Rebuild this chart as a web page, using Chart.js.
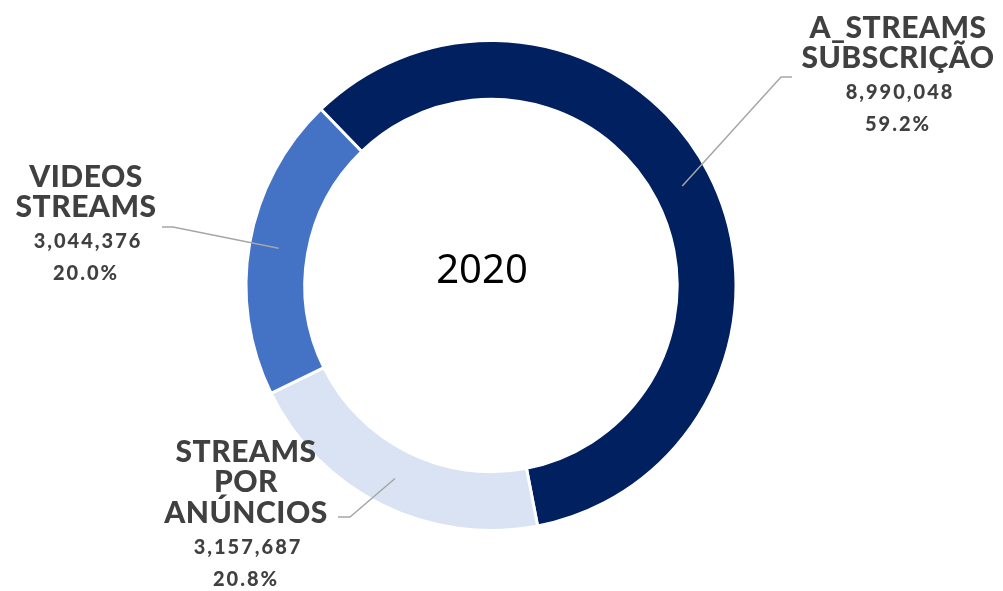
<!DOCTYPE html>
<html>
<head>
<meta charset="utf-8">
<script src="https://cdn.jsdelivr.net/npm/chart.js@4/dist/chart.umd.min.js"></script>
<style>
  html, body { margin: 0; padding: 0; background: #fff; }
  #wrap { width: 1003px; height: 591px; }
</style>
</head>
<body>
<div id="wrap"><canvas id="donut"></canvas></div>
<script>
const categories = ["A_STREAMS SUBSCRIÇÃO", "STREAMS POR ANÚNCIOS", "VIDEOS STREAMS"];
const titleLines = [["A_STREAMS", "SUBSCRIÇÃO"], ["STREAMS", "POR", "ANÚNCIOS"], ["VIDEOS", "STREAMS"]];
const values = [8990048, 3157687, 3044376];
const sliceColors = ["#002060", "#DAE3F3", "#4472C4"];
const centerTitle = "2020";

// where each label block sits and how its leader line bends
const labelLayout = [
  { x: 898, y: 28, elbow: [781, 77], end: [792, 77] },
  { x: 246, y: 452, elbow: [350, 517], end: [338, 517] },
  { x: 86, y: 177, elbow: [173, 227], end: [162, 227] },
];

const total = values.reduce((a, b) => a + b, 0);

const labelPlugin = {
  id: "calloutLabels",
  afterDatasetsDraw(chart) {
    const ctx = chart.ctx;
    const meta = chart.getDatasetMeta(0);
    ctx.save();

    // center text
    const first = meta.data[0];
    ctx.fillStyle = "#000";
    ctx.font = "40px 'Noto Sans'";
    ctx.textAlign = "center";
    ctx.textBaseline = "middle";
    ctx.fillText(centerTitle, first.x - 9, 272);

    meta.data.forEach((arc, i) => {
      const lay = labelLayout[i];
      const pos = arc.tooltipPosition();

      // leader line
      ctx.strokeStyle = "#A6A6A6";
      ctx.lineWidth = 1.5;
      ctx.beginPath();
      ctx.moveTo(pos.x, pos.y);
      ctx.lineTo(lay.elbow[0], lay.elbow[1]);
      ctx.lineTo(lay.end[0], lay.end[1]);
      ctx.stroke();

      ctx.fillStyle = "#404040";
      ctx.textAlign = "center";
      ctx.textBaseline = "middle";
      let y = lay.y;
      ctx.letterSpacing = "0.5px";
      ctx.font = "900 30px Lato";
      titleLines[i].forEach((t) => {
        ctx.fillText(t, lay.x, y);
        y += 30.5;
      });
      y += 4;
      ctx.font = "900 20px Lato";
      ctx.letterSpacing = "2px";
      ctx.fillText(values[i].toLocaleString("en-US"), lay.x + 2, y);
      y += 32;
      ctx.fillText((values[i] / total * 100).toFixed(1) + "%", lay.x, y);
    });
    ctx.restore();
  },
};

new Chart(document.getElementById("donut"), {
  type: "doughnut",
  data: {
    labels: categories,
    datasets: [
      {
        data: values,
        backgroundColor: sliceColors,
        borderColor: "#fff",
        borderWidth: 3,
        hoverOffset: 0,
      },
    ],
  },
  options: {
    responsive: true,
    maintainAspectRatio: false,
    animation: false,
    rotation: -44,
    cutout: "76%",
    layout: { padding: { top: 39, bottom: 59, left: 244, right: 265 } },
    plugins: {
      legend: { display: false },
      tooltip: { enabled: false },
    },
  },
  plugins: [labelPlugin],
});
</script>
</body>
</html>
